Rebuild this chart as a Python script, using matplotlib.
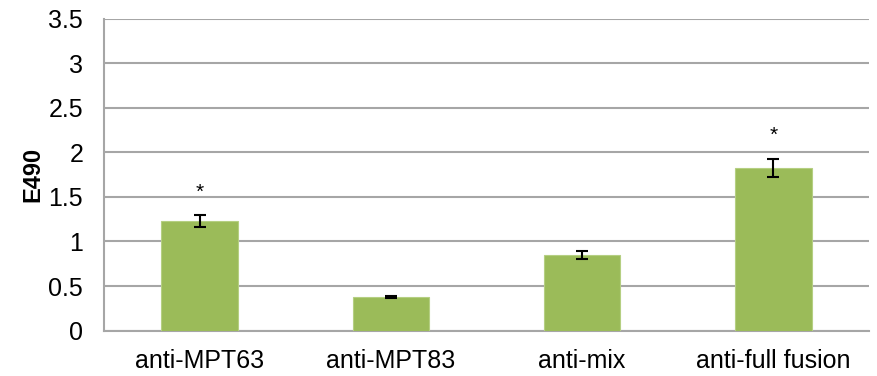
import numpy as np
import matplotlib.pyplot as plt

plt.rcParams['font.family'] = ['Liberation Sans', 'DejaVu Sans']

categorias = ["anti-MPT63", "anti-MPT83", "anti-mix", "anti-full fusion"]
valores = [1.23, 0.38, 0.85, 1.83]
erros = [0.065, 0.012, 0.045, 0.10]
significativo = [True, False, False, True]

fig = plt.figure(figsize=(8.77, 3.76), dpi=100)
ax = fig.add_axes([0.1186, 0.121, 0.8723, 0.8285])

x = np.arange(len(categorias))
ax.bar(x, valores, width=0.40, color='#9BBB59', edgecolor='#B5CF82', linewidth=0.8, zorder=3)
ax.errorbar(x, valores, yerr=erros, fmt='none', ecolor='black', elinewidth=1.5,
            capsize=4.5, capthick=1.5, zorder=4)

for i, sig in enumerate(significativo):
    if sig:
        ax.text(x[i], valores[i] + erros[i] + 0.26, '*', ha='center', va='center',
                fontsize=15, zorder=5)

ax.set_xlim(-0.5, len(categorias) - 0.5)
ax.set_ylim(0, 3.5)
ax.set_yticks(np.arange(0, 3.51, 0.5))
ax.set_yticklabels(['0', '0.5', '1', '1.5', '2', '2.5', '3', '3.5'])
ax.set_xticks(x)
ax.set_xticklabels(categorias)
ax.tick_params(axis='both', length=0, labelsize=18)
ax.tick_params(axis='y', pad=15)
ax.tick_params(axis='x', pad=13)
ax.yaxis.grid(True, color='#A6A6A6', linewidth=1.5, zorder=0)
ax.set_axisbelow(True)
for lado in ['top', 'right']:
    ax.spines[lado].set_visible(False)
ax.spines['left'].set_color('#A6A6A6')
ax.spines['bottom'].set_color('#A6A6A6')
ax.spines['left'].set_linewidth(1.5)
ax.spines['bottom'].set_linewidth(1.5)
ax.set_ylabel('E490', fontsize=17, fontweight='bold', labelpad=3)

fig.savefig('out.png', dpi=100)
